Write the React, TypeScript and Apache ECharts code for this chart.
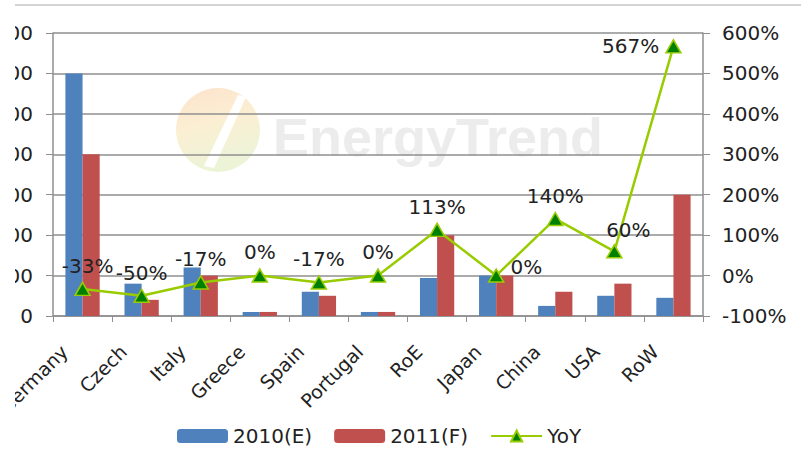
import React, { useEffect, useRef } from "react";
import * as echarts from "echarts";

const categories = ["Germany", "Czech", "Italy", "Greece", "Spain", "Portugal", "RoE", "Japan", "China", "USA", "RoW"];
const values2010 = [6000, 800, 1200, 100, 600, 100, 940, 1000, 250, 500, 450];
const values2011 = [4000, 400, 1000, 100, 500, 100, 2000, 1000, 600, 800, 3000];
const yoy = [-33, -50, -17, 0, -17, 0, 113, 0, 140, 60, 567];
const yoyLabelPos = ["top", "top", "top", "top", "top", "top", "top", "right", "top", "top", "left"];
const yoyLabelOffset = [[5, 0], [0, 0], [0, 0], [0, 0], [0, 0], [0, 0], [0, 0], [0, -9], [0, 0], [14, 2], [0, 0]];
const seriesNames = ["2010(E)", "2011(F)", "YoY"];

const FONT = "DejaVu Sans";

export default function App() {
  const ref = useRef<HTMLDivElement>(null);
  useEffect(() => {
    if (!ref.current) return;
    const chart = echarts.init(ref.current, undefined, { renderer: "svg" });
    const gridColor = "#8f8f8f";
    chart.setOption({
      animation: false,
      backgroundColor: "#ffffff",
      textStyle: { fontFamily: FONT },
      grid: { left: 53, right: 98, top: 33, bottom: 136, containLabel: false, outerBoundsMode: "none" },
      legend: {
        top: 426,
        left: 177,
        padding: 0,
        itemWidth: 51,
        itemHeight: 14,
        itemGap: 22,
        textStyle: { fontFamily: FONT, fontSize: 20, color: "#222" },
        data: seriesNames,
      },
      xAxis: {
        type: "category",
        data: categories,
        axisLine: { lineStyle: { color: gridColor, width: 1.5 } },
        axisTick: { show: true, length: 6, lineStyle: { color: gridColor } },
        axisLabel: {
          rotate: 45,
          interval: 0,
          margin: 14,
          formatter: (v: string) => `{t|${v}}{s|}`,
          rich: {
            t: { fontFamily: FONT, fontSize: 19, color: "#222" },
            s: { width: 26 },
          },
        },
        splitLine: { show: false },
      },
      yAxis: [
        {
          type: "value",
          min: 0,
          max: 7000,
          interval: 1000,
          axisLine: { show: true, lineStyle: { color: gridColor, width: 1.5 } },
          axisTick: { show: true, length: 7, lineStyle: { color: gridColor } },
          axisLabel: { margin: 20, fontFamily: FONT, fontSize: 20, color: "#222", formatter: (v: number) => String(v) },
          splitLine: { show: true, lineStyle: { color: gridColor, width: 1.5 } },
        },
        {
          type: "value",
          min: -100,
          max: 600,
          interval: 100,
          axisLine: { show: true, lineStyle: { color: gridColor, width: 1.5 } },
          axisTick: { show: true, length: 7, lineStyle: { color: gridColor } },
          axisLabel: { margin: 19, fontFamily: FONT, fontSize: 20, color: "#222", formatter: "{value}%" },
          splitLine: { show: false },
        },
      ],
      series: [
        {
          name: seriesNames[0],
          type: "bar",
          data: values2010,
          barGap: "0%",
          barCategoryGap: "42%",
          itemStyle: { color: "#4f81bd" },
          z: 2,
        },
        {
          name: seriesNames[1],
          type: "bar",
          data: values2011,
          itemStyle: { color: "#c0504d" },
          z: 2,
        },
        {
          name: seriesNames[2],
          type: "line",
          yAxisIndex: 1,
          data: yoy.map((v, i) => ({
            value: v,
            label: { position: yoyLabelPos[i], offset: yoyLabelOffset[i] },
          })),
          symbol: "triangle",
          symbolSize: [15, 13],
          lineStyle: { color: "#99cc00", width: 2.5 },
          itemStyle: { color: "#008000", borderColor: "#99cc00", borderWidth: 1.5 },
          label: {
            show: true,
            distance: 6,
            fontFamily: FONT,
            fontSize: 20,
            color: "#222",
            formatter: "{c}%",
          },
          z: 5,
        },
      ],
      graphic: [
        {
          type: "circle",
          shape: { cx: 218, cy: 130, r: 42 },
          style: {
            fill: new echarts.graphic.LinearGradient(0, 0, 0.3, 1, [
              { offset: 0, color: "#fde2cc" },
              { offset: 0.5, color: "#fbefd3" },
              { offset: 1, color: "#ecf4d8" },
            ]),
          },
          z: 0,
        },
        {
          type: "polygon",
          shape: { points: [[238, 95], [246, 97], [214, 168], [204, 166]] },
          style: { fill: "#ffffff" },
          z: 0,
        },
        {
          type: "text",
          x: 273,
          y: 110,
          style: {
            text: "EnergyTrend",
            fontFamily: "Liberation Sans",
            fontWeight: "bold",
            fontSize: 54,
            fill: "#ececec",
          },
          z: 0,
        },
        {
          type: "line",
          shape: { x1: 15, y1: 5, x2: 801, y2: 5 },
          style: { stroke: "#d4d4d4", lineWidth: 2 },
          z: 100,
        },
        {
          type: "rect",
          shape: { x: 0, y: 0, width: 15, height: 452 },
          style: { fill: "#ffffff" },
          z: 100,
        },
      ],
    });
    return () => chart.dispose();
  }, []);
  return (
    <div
      ref={ref}
      style={{ position: "fixed", left: 0, top: 0, width: 801, height: 452, background: "#fff" }}
    />
  );
}
